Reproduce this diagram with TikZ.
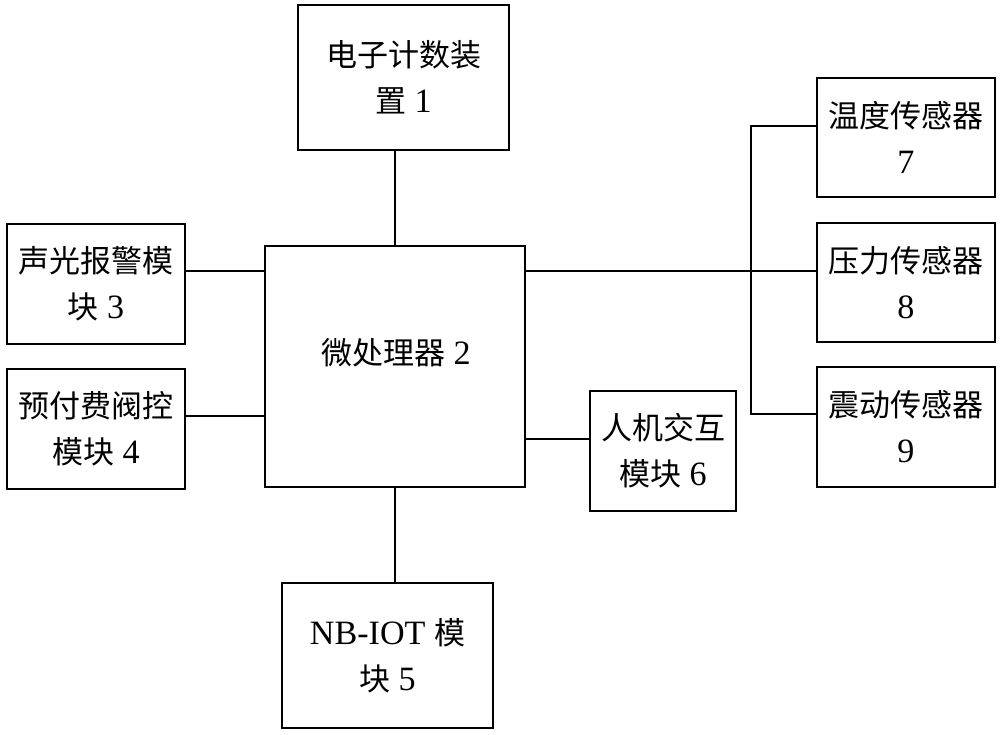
\documentclass[tikz,border=0pt]{standalone}
\usepackage{fontspec}
\setmainfont[Scale=1.1]{Liberation Serif}
\newfontfamily\cjk{Noto Sans CJK SC}
\begin{document}
\begin{tikzpicture}[x=1pt,y=-1pt,
  box/.style={draw,line width=2.2pt,inner sep=0pt,align=center,
    font=\fontsize{31}{46}\selectfont},
  txt/.style={inner sep=0pt,align=center,font=\fontsize{31}{46}\selectfont},
  wire/.style={line width=2.2pt}]
\useasboundingbox (0,0) rectangle (1000,734);
\node[box,minimum width=211pt,minimum height=145pt] (b1) at (403.5,77.5)
  {{\cjk 电子计数装}\\{\cjk 置} 1};
\node[box,minimum width=260pt,minimum height=241pt] (mp) at (395,366.5) {};
\node[txt] (mpt) at (396,353) {{\cjk 微处理器} 2};
\node[box,minimum width=178pt,minimum height=120pt] (b3) at (96,284)
  {{\cjk 声光报警模}\\{\cjk 块} 3};
\node[box,minimum width=178pt,minimum height=120pt] (b4) at (96,429)
  {{\cjk 预付费阀控}\\{\cjk 模块} 4};
\node[box,minimum width=211pt,minimum height=145pt] (b5) at (387.5,655.5)
  {NB-IOT {\cjk 模}\\{\cjk 块} 5};
\node[box,minimum width=146pt,minimum height=120pt] (b6) at (663,451)
  {{\cjk 人机交互}\\{\cjk 模块} 6};
\node[box,minimum width=178pt,minimum height=119pt] (b7) at (906,137.5)
  {{\cjk 温度传感器}\\7};
\node[box,minimum width=178pt,minimum height=119pt] (b8) at (906,282.5)
  {{\cjk 压力传感器}\\8};
\node[box,minimum width=178pt,minimum height=120pt] (b9) at (906,427)
  {{\cjk 震动传感器}\\9};
% connectors
\draw[wire] (mp.north) -- (mp.north |- b1.south);
\draw[wire] (mp.south) -- (mp.south |- b5.north);
\draw[wire] ([yshift=13pt]b3.east) -- ([yshift=13pt]b3.east -| mp.west);
\draw[wire] ([yshift=13pt]b4.east) -- ([yshift=13pt]b4.east -| mp.west);
\draw[wire] ([yshift=12pt]b6.west) -- ([yshift=12pt]b6.west -| mp.east);
\draw[wire] ([yshift=11.5pt]b8.west) -- ([yshift=11.5pt]b8.west -| mp.east);
\draw[wire] ([yshift=11.5pt]b7.west) -- ++(-65,0) |- ([yshift=13pt]b9.west);
\end{tikzpicture}
\end{document}
